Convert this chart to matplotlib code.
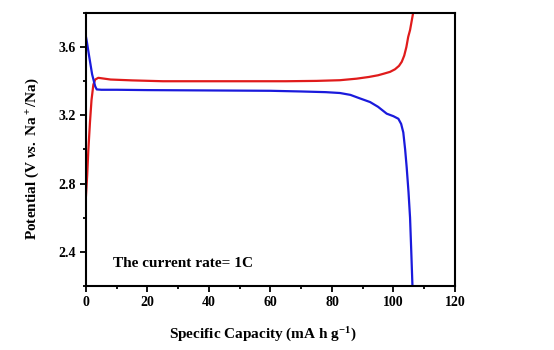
import numpy as np
import matplotlib
matplotlib.use('Agg')
import matplotlib.pyplot as plt
from matplotlib.ticker import MultipleLocator

# charge curve (red), capacity in mA h g-1, potential in V
charge_cap = [0.0, 0.4, 0.75, 1.3, 1.8, 2.4, 3.0, 4.0, 6.0, 8.0, 15.0, 25.0, 37.0, 50.0,
              65.0, 75.0, 82.6, 88.0, 92.0, 95.0, 97.0, 98.9, 100.5, 101.8, 102.7,
              103.5, 104.2, 104.8, 105.4, 105.9, 106.4]
charge_v = [2.73, 2.85, 2.99, 3.16, 3.29, 3.38, 3.41, 3.42, 3.415, 3.41, 3.405, 3.40, 3.40, 3.40,
            3.40, 3.402, 3.406, 3.415, 3.425, 3.435, 3.445, 3.455, 3.47, 3.49, 3.514,
            3.55, 3.60, 3.66, 3.70, 3.75, 3.80]

# discharge curve (blue)
dis_cap = [0.0, 0.3, 1.0, 2.0, 3.0, 3.5, 5.0, 10.0, 20.0, 40.0, 60.0, 70.0, 78.0, 82.6,
           86.0, 89.0, 92.4, 95.0, 97.8, 100.0, 101.6, 102.5, 103.2, 103.8, 104.3,
           104.9, 105.4, 105.8, 106.2]
dis_v = [3.66, 3.63, 3.55, 3.44, 3.37, 3.352, 3.35, 3.35, 3.348, 3.346, 3.344, 3.34, 3.336, 3.331,
         3.32, 3.30, 3.278, 3.25, 3.21, 3.195, 3.18, 3.15, 3.10, 3.00, 2.896,
         2.75, 2.60, 2.40, 2.19]

x_ticks = [0, 20, 40, 60, 80, 100, 120]
y_ticks = [2.4, 2.8, 3.2, 3.6]

plt.rcParams['font.family'] = 'Liberation Serif'
plt.rcParams['font.weight'] = 'bold'
plt.rcParams['mathtext.fontset'] = 'custom'
plt.rcParams['mathtext.rm'] = 'Liberation Serif:bold'
plt.rcParams['mathtext.it'] = 'Liberation Serif:italic:bold'
plt.rcParams['mathtext.bf'] = 'Liberation Serif:bold'

fig = plt.figure(figsize=(5.54, 3.5), dpi=100)
ax = fig.add_axes([0.1552, 0.1829, 0.666, 0.78])

ax.plot(charge_cap, charge_v, color='#e01b1b', lw=1.6)
ax.plot(dis_cap, dis_v, color='#1a1adc', lw=1.6)

ax.set_xlim(0, 120)
ax.set_ylim(2.2, 3.8)
ax.set_xticks(x_ticks)
ax.set_yticks(y_ticks)
ax.xaxis.set_minor_locator(MultipleLocator(10))
ax.yaxis.set_minor_locator(MultipleLocator(0.2))
ax.tick_params(which='both', direction='out', width=1.3, labelsize=10)
ax.tick_params(which='major', length=4)
ax.tick_params(which='minor', length=2.5)
for lab in ax.get_xticklabels() + ax.get_yticklabels():
    lab.set_fontweight('bold')
for s in ax.spines.values():
    s.set_linewidth(1.5)

ax.set_xlabel(r'Specific Capacity (mA h g$^{-1}$)', fontsize=11, fontweight='bold')
ax.set_ylabel(r'Potential (V $\mathit{vs.}$ Na$^+$/Na)', fontsize=11, fontweight='bold')
ax.xaxis.set_label_coords(0.48, -0.145)
ax.yaxis.set_label_coords(-0.123, 0.465)

ax.text(8.8, 2.33, 'The current rate= 1C', fontsize=11, fontweight='bold', va='center')

fig.savefig('out.png', dpi=100)
